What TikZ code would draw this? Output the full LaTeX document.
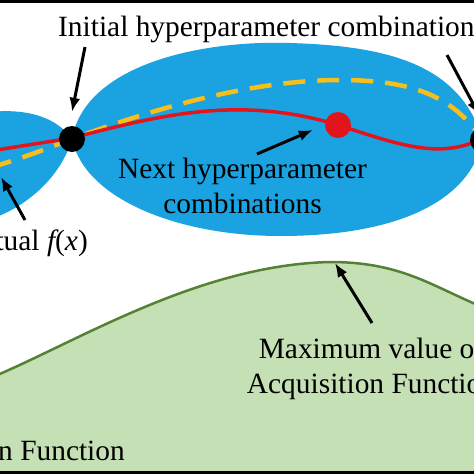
\documentclass[tikz,border=0pt]{standalone}
\usepackage{fontspec}
\setmainfont{Liberation Serif}
\usepackage{tikz}
\usetikzlibrary{arrows.meta,calc}
\definecolor{bandblue}{RGB}{27,163,225}
\definecolor{meangold}{RGB}{247,190,28}
\definecolor{truered}{RGB}{228,20,28}
\definecolor{acqfill}{RGB}{197,224,180}
\definecolor{acqline}{RGB}{84,130,53}
\definecolor{baseline}{RGB}{60,70,55}
\tikzset{
  lbl/.style={font=\fontsize{29.4}{35}\selectfont, inner sep=0pt, align=center},
  ptr/.style={-{Latex[length=14pt,width=11pt]}, line width=3pt},
  obs/.style={circle, fill=black, inner sep=0pt, minimum size=26pt}
}

\begin{document}
\begin{tikzpicture}[x=1pt,y=-1pt]
	\useasboundingbox (0,0) rectangle (474,474);
	\clip (0,0) rectangle (474,474);
	\fill[acqfill] (-5,376) .. controls (80,340) and (200,265) .. (330,262) .. controls (400,262) and (430,285) .. (480,306) -- (480,480) -- (-5,480) -- cycle;
	\draw[acqline, line width=2.5pt] (-5,376) .. controls (80,340) and (200,265) .. (330,262) .. controls (400,262) and (430,285) .. (480,306);
	\fill[bandblue] (72,139) .. controls (55,115) and (20,105) .. (-30,115) -- (-30,225) .. controls (20,215) and (60,180) .. (72,139) -- cycle;
	\fill[bandblue] (72,139) .. controls (85,65) and (200,40) .. (290,43) .. controls (390,46) and (460,65) .. (483,140) .. controls (500,100) and (520,100) .. (540,110) -- (540,180) .. controls (520,190) and (500,190) .. (483,140) .. controls (470,200) and (400,236) .. (280,236) .. controls (180,236) and (85,200) .. (72,139) -- cycle;
	\draw[meangold, line width=4.5pt, dash pattern=on 22pt off 12pt] (-10,168) .. controls (30,155) .. (72,139) .. controls (150,110) and (250,80) .. (340,80) .. controls (420,80) and (455,100) .. (483,140);
	\draw[truered, line width=3.5pt] (-10,151) -- (72,138) .. controls (160,115) and (240,95) .. (338,125) .. controls (400,145) and (440,160) .. (483,138);
	\node[obs] (obsA) at (72,139) {};
	\node[obs] (obsB) at (483,140) {};
	\node[obs, fill=truered] (nxt) at (338,125) {};
	\node[lbl, anchor=base west] (initLbl) at (58,36) {Initial hyperparameter combinations};
	\node[lbl, anchor=base] (nxtLbl) at (242.5,213) {Next hyperparameter\\combinations};
	\node[lbl, anchor=base east] (actLbl) at (88,250) {Actual {\itshape f}({\itshape x})};
	\node[lbl, anchor=base] (maxLbl) at (371.5,393) {Maximum value of\\Acquisition Function};
	\node[lbl, anchor=base east] (acqLbl) at (125,460) {Acquisition Function};
	\coordinate (initTailA) at (85,47);
	\coordinate (initTailB) at (447,55);
	\coordinate (nxtTail) at (257,154);
	\coordinate (actTail) at (25,220);
	\coordinate (maxTail) at (372,323);
	\coordinate (maxTip) at (335,263);
	\draw[ptr] (initTailA) -- ($(obsA.north)+(0,-14)$);
	\draw[ptr] (initTailB) -- ($(obsB.north)+(-4,-12)$);
	\draw[ptr] (nxtTail) -- ($(nxt.west)+(-12,5)$);
	\draw[ptr] (actTail) -- (1,177);
	\draw[ptr] (maxTail) -- (maxTip);
	\fill[black] (0,0) rectangle (474,3);
	\fill[baseline] (0,471) rectangle (474,474);
\end{tikzpicture}
\end{document}
